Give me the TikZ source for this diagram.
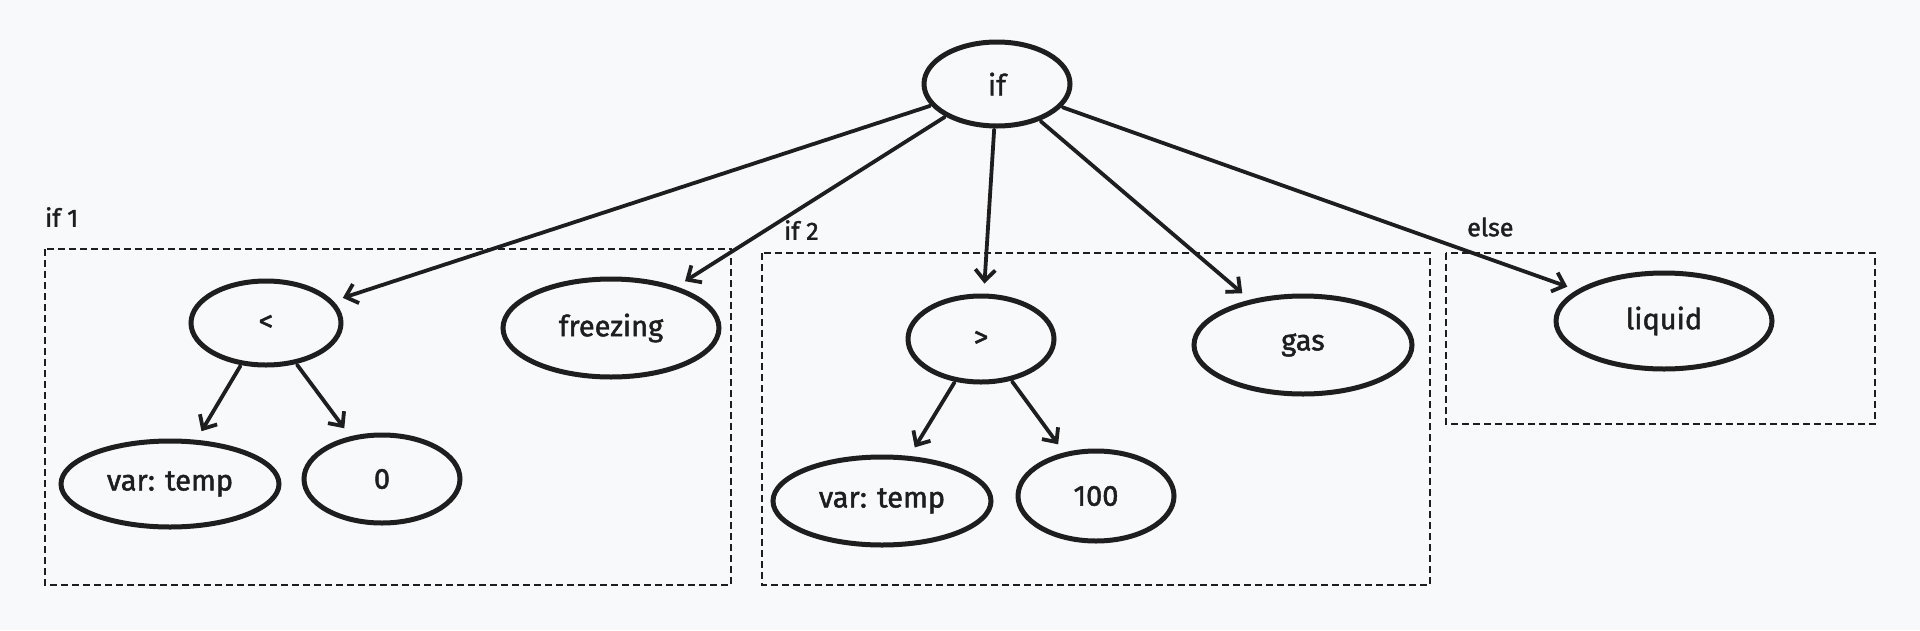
\documentclass[tikz,border=0pt]{standalone}
\usepackage{fontspec}
\setmainfont{Fira Sans}
\newfontfamily\nodefont{Fira Sans}[FakeBold=1.6]
\usetikzlibrary{shapes.geometric,arrows.meta}
\definecolor{bg}{HTML}{F8F9FB}
\definecolor{ink}{HTML}{1E1E1E}
\begin{document}
\begin{tikzpicture}[x=1pt,y=-1pt,
  nd/.style={ellipse,draw=ink,line width=5pt,fill=bg,inner sep=0pt,
    font=\nodefont\fontsize{29}{33}\selectfont,text=ink},
  grp/.style={draw=ink,line width=1.8pt,dash pattern=on 7pt off 4pt},
  lbl/.style={font=\nodefont\fontsize{25}{29}\selectfont,text=ink,inner sep=0pt,anchor=west},
  arr/.style={draw=ink,line width=3.8pt,line cap=round,
    -{Straight Barb[length=11pt,width=20pt,line width=3.8pt]},shorten >=10pt,shorten <=1pt}]
\fill[bg] (0,0) rectangle (1920,630);
\useasboundingbox (0,0) rectangle (1920,630);
% groups
\draw[grp] (45,249) rectangle (731,585);
\draw[grp] (762,253) rectangle (1430,585);
\draw[grp] (1446,253) rectangle (1875,424);
\node[lbl] (l1) at (45,217) {if 1};
\node[lbl] (l2) at (784,230) {if 2};
\node[lbl] (l3) at (1467,227) {else};
% nodes
\node[nd,minimum width=146pt,minimum height=84pt] (if) at (997,84) {if};
\node[nd,minimum width=150pt,minimum height=84pt] (lt) at (266,323) {<};
\node[nd,minimum width=216pt,minimum height=98pt] (frz) at (611,328) {freezing};
\node[nd,minimum width=218pt,minimum height=86pt] (v1) at (170,484) {var: temp};
\node[nd,minimum width=156pt,minimum height=88pt] (zero) at (382,479) {0};
\node[nd,minimum width=146pt,minimum height=86pt] (gt) at (981,339) {>};
\node[nd,minimum width=218pt,minimum height=98pt] (gas) at (1303,345) {gas};
\node[nd,minimum width=218pt,minimum height=88pt] (v2) at (882,501) {var: temp};
\node[nd,minimum width=156pt,minimum height=90pt] (hund) at (1096,496) {100};
\node[nd,minimum width=216pt,minimum height=96pt] (liq) at (1664,321) {liquid};
% connectors
\draw[arr] (if) -- (lt);
\draw[arr] (if) -- (frz);
\draw[arr] (if) -- (gt);
\draw[arr] (if) -- (gas);
\draw[arr] (if) -- (liq);
\draw[arr] (lt) -- (v1);
\draw[arr] (lt) -- (zero);
\draw[arr] (gt) -- (v2);
\draw[arr] (gt) -- (hund);
\end{tikzpicture}
\end{document}
